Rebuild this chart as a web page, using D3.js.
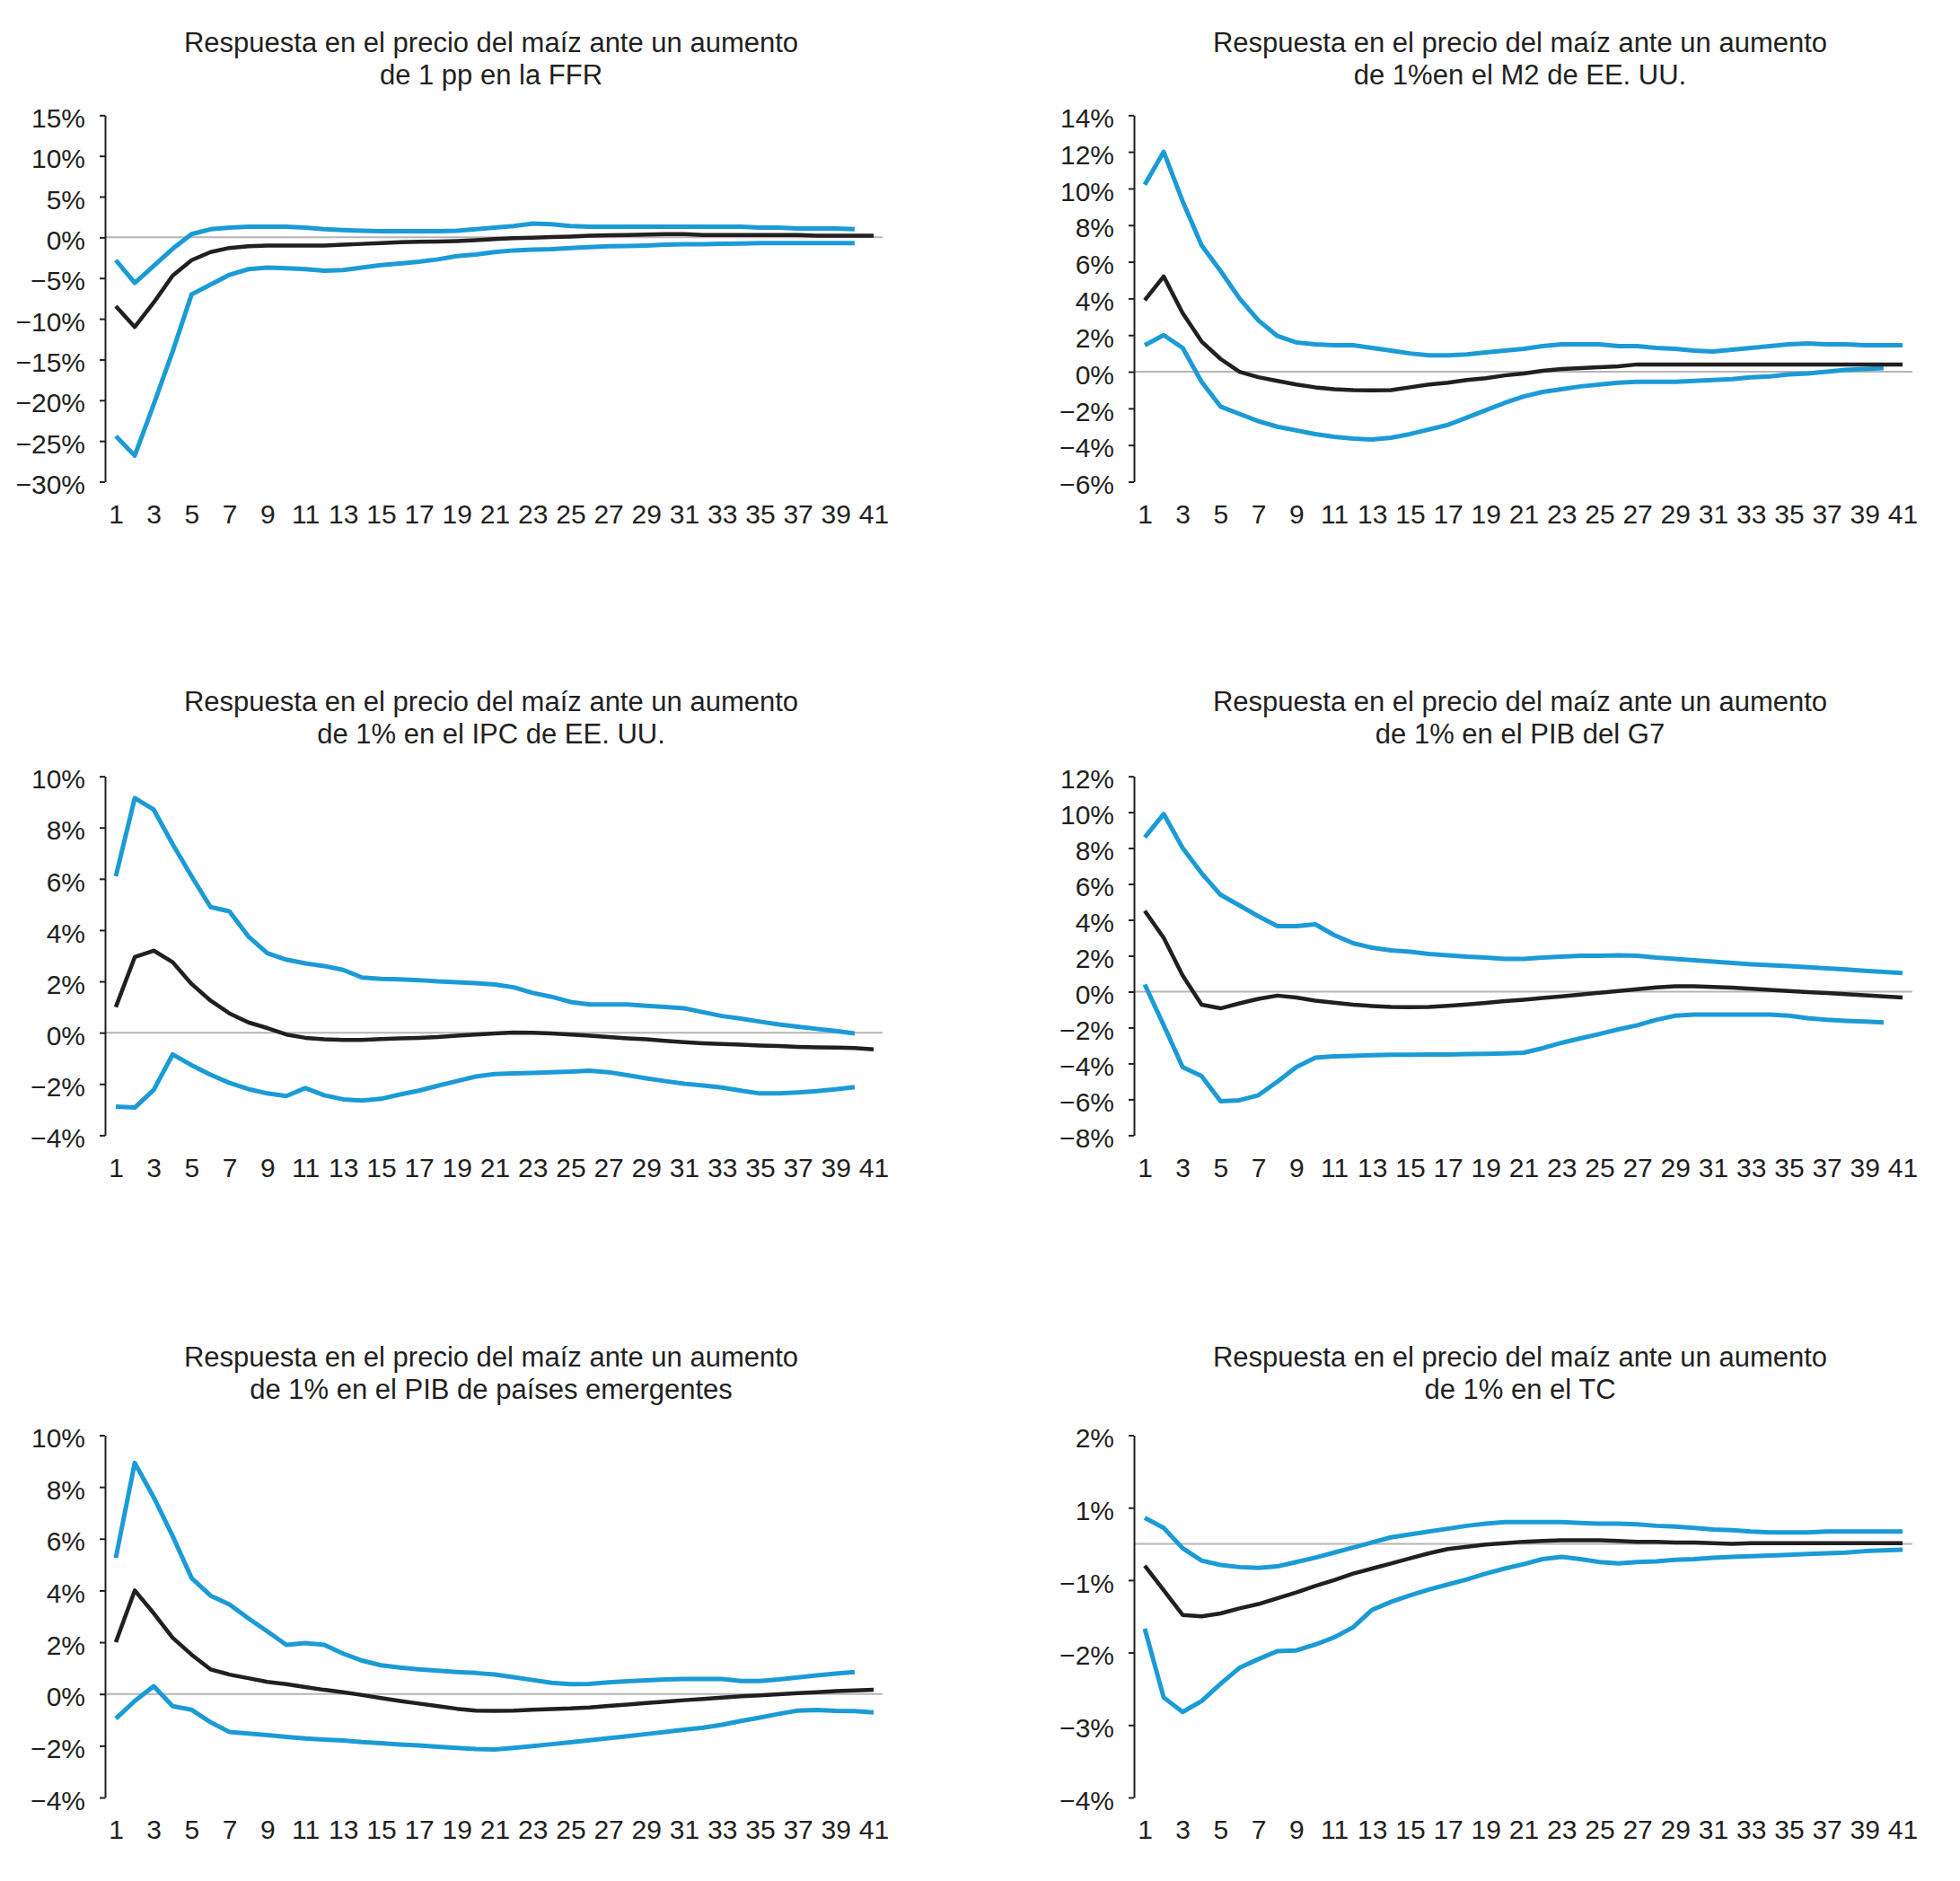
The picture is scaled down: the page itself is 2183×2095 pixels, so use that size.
<!DOCTYPE html>
<html>
<head>
<meta charset="utf-8">
<script src="https://cdn.jsdelivr.net/npm/d3@7"></script>
<style>
  html, body { margin: 0; padding: 0; background: #ffffff; }
  svg { display: block; }
  text { font-family: "Liberation Sans", Arial, Helvetica, sans-serif; fill: #231f20; }
</style>
</head>
<body>
<script>
// ---------------- DATA ----------------
const periods = [1,2,3,4,5,6,7,8,9,10,11,12,13,14,15,16,17,18,19,20,21,22,23,24,25,26,27,28,29,30,31,32,33,34,35,36,37,38,39,40,41];
const xTickLabels = [1,3,5,7,9,11,13,15,17,19,21,23,25,27,29,31,33,35,37,39,41];

const titleLine1 = "Respuesta en el precio del maíz ante un aumento";
const titleLines2 = [
  "de 1 pp en la FFR",
  "de 1%en el M2 de EE. UU.",
  "de 1% en el IPC de EE. UU.",
  "de 1% en el PIB del G7",
  "de 1% en el PIB de países emergentes",
  "de 1% en el TC"
];

// Panel 1: FFR
const ffrTicks = [15,10,5,0,-5,-10,-15,-20,-25,-30];
const ffrUpper = [-2.8,-5.6,-3.5,-1.4,0.4,1.0,1.2,1.3,1.3,1.3,1.2,1.0,0.9,0.8,0.75,0.75,0.75,0.75,0.8,1.0,1.2,1.4,1.7,1.6,1.4,1.3,1.3,1.3,1.3,1.3,1.3,1.3,1.3,1.3,1.2,1.2,1.1,1.1,1.1,1.0,null];
const ffrMid   = [-8.45,-11.0,-8.0,-4.7,-2.8,-1.8,-1.3,-1.1,-1.0,-1.0,-1.0,-1.0,-0.9,-0.8,-0.7,-0.6,-0.55,-0.5,-0.45,-0.35,-0.2,-0.1,-0.05,0.05,0.1,0.2,0.25,0.3,0.35,0.4,0.4,0.3,0.3,0.3,0.3,0.3,0.3,0.2,0.2,0.2,0.2];
const ffrLower = [-24.4,-26.8,-20.5,-14.0,-7.0,-5.8,-4.6,-3.9,-3.7,-3.8,-3.9,-4.1,-4.0,-3.7,-3.4,-3.2,-3.0,-2.7,-2.3,-2.1,-1.8,-1.6,-1.5,-1.45,-1.3,-1.2,-1.1,-1.05,-1.0,-0.9,-0.85,-0.85,-0.8,-0.75,-0.7,-0.7,-0.7,-0.7,-0.7,-0.7,null];

// Panel 2: M2
const m2Ticks = [14,12,10,8,6,4,2,0,-2,-4,-6];
const m2Upper = [10.2,12.0,9.3,6.9,5.5,4.0,2.8,1.95,1.6,1.5,1.45,1.45,1.3,1.15,1.0,0.9,0.9,0.95,1.05,1.15,1.25,1.4,1.5,1.5,1.5,1.4,1.4,1.3,1.25,1.15,1.1,1.2,1.3,1.4,1.5,1.55,1.5,1.5,1.45,1.45,1.45];
const m2Mid   = [3.9,5.2,3.2,1.65,0.7,0.0,-0.3,-0.5,-0.7,-0.85,-0.95,-1.0,-1.02,-1.0,-0.85,-0.7,-0.6,-0.45,-0.35,-0.2,-0.1,0.05,0.15,0.2,0.25,0.3,0.4,0.4,0.4,0.4,0.4,0.4,0.4,0.4,0.4,0.4,0.4,0.4,0.4,0.4,0.4];
const m2Lower = [1.45,2.0,1.3,-0.55,-1.9,-2.3,-2.7,-3.0,-3.2,-3.4,-3.55,-3.65,-3.7,-3.6,-3.4,-3.15,-2.9,-2.5,-2.1,-1.7,-1.35,-1.1,-0.95,-0.8,-0.7,-0.6,-0.55,-0.55,-0.55,-0.5,-0.45,-0.4,-0.3,-0.25,-0.15,-0.1,0.0,0.1,0.15,0.2,null];

// Panel 3: IPC
const ipcTicks = [10,8,6,4,2,0,-2,-4];
const ipcUpper = [6.1,9.15,8.7,7.35,6.1,4.9,4.73,3.75,3.1,2.85,2.7,2.6,2.45,2.15,2.1,2.08,2.05,2.0,1.97,1.93,1.88,1.77,1.55,1.4,1.2,1.1,1.1,1.1,1.05,1.0,0.95,0.8,0.65,0.55,0.43,0.32,0.23,0.15,0.07,-0.03,null];
const ipcMid   = [1.0,2.95,3.2,2.75,1.9,1.25,0.75,0.4,0.18,-0.07,-0.2,-0.26,-0.28,-0.28,-0.25,-0.22,-0.2,-0.17,-0.12,-0.07,-0.03,0.01,0.0,-0.03,-0.07,-0.12,-0.17,-0.22,-0.26,-0.32,-0.37,-0.41,-0.44,-0.47,-0.5,-0.52,-0.55,-0.57,-0.58,-0.6,-0.65];
const ipcLower = [-2.88,-2.92,-2.23,-0.85,-1.27,-1.64,-1.96,-2.2,-2.37,-2.47,-2.16,-2.44,-2.6,-2.65,-2.58,-2.41,-2.26,-2.07,-1.89,-1.71,-1.61,-1.59,-1.57,-1.54,-1.52,-1.48,-1.54,-1.66,-1.78,-1.89,-1.99,-2.06,-2.14,-2.26,-2.37,-2.37,-2.33,-2.28,-2.21,-2.12,null];

// Panel 4: PIB G7
const g7Ticks = [12,10,8,6,4,2,0,-2,-4,-6,-8];
const g7Upper = [8.6,9.9,8.0,6.6,5.4,4.8,4.2,3.65,3.65,3.75,3.15,2.7,2.45,2.3,2.22,2.1,2.03,1.95,1.9,1.83,1.83,1.9,1.95,2.0,2.0,2.03,2.0,1.9,1.83,1.75,1.67,1.6,1.53,1.48,1.42,1.36,1.3,1.24,1.16,1.1,1.04];
const g7Mid   = [4.5,3.0,0.9,-0.73,-0.93,-0.65,-0.4,-0.22,-0.33,-0.5,-0.61,-0.73,-0.8,-0.85,-0.87,-0.85,-0.79,-0.71,-0.63,-0.53,-0.45,-0.35,-0.26,-0.16,-0.06,0.04,0.14,0.24,0.3,0.3,0.26,0.22,0.16,0.1,0.04,-0.02,-0.08,-0.14,-0.2,-0.26,-0.33];
const g7Lower = [0.4,-1.87,-4.2,-4.7,-6.1,-6.05,-5.77,-5.02,-4.2,-3.68,-3.6,-3.58,-3.54,-3.52,-3.52,-3.5,-3.5,-3.48,-3.46,-3.44,-3.4,-3.15,-2.85,-2.6,-2.36,-2.1,-1.87,-1.57,-1.34,-1.28,-1.28,-1.28,-1.28,-1.28,-1.34,-1.48,-1.57,-1.63,-1.67,-1.71,null];

// Panel 5: PIB emergentes
const emTicks = [10,8,6,4,2,0,-2,-4];
const emUpper = [5.26,8.93,7.6,6.1,4.48,3.8,3.46,2.92,2.42,1.9,1.97,1.9,1.56,1.29,1.11,1.02,0.95,0.9,0.85,0.81,0.75,0.65,0.54,0.43,0.38,0.39,0.45,0.49,0.53,0.56,0.58,0.58,0.58,0.5,0.5,0.56,0.64,0.72,0.79,0.85,null];
const emMid   = [2.0,4.0,3.12,2.17,1.52,0.95,0.75,0.61,0.47,0.38,0.27,0.16,0.07,-0.04,-0.16,-0.27,-0.37,-0.47,-0.57,-0.64,-0.65,-0.64,-0.61,-0.58,-0.56,-0.52,-0.46,-0.41,-0.35,-0.3,-0.24,-0.19,-0.14,-0.09,-0.05,-0.01,0.03,0.07,0.11,0.14,0.16];
const emLower = [-0.95,-0.27,0.3,-0.47,-0.61,-1.09,-1.47,-1.53,-1.59,-1.66,-1.72,-1.76,-1.8,-1.86,-1.9,-1.95,-1.99,-2.04,-2.08,-2.13,-2.14,-2.08,-2.01,-1.94,-1.87,-1.79,-1.71,-1.63,-1.55,-1.47,-1.38,-1.3,-1.19,-1.04,-0.91,-0.77,-0.64,-0.62,-0.65,-0.66,-0.71];

// Panel 6: TC (axis runs -3.5%..1.5%, labels rounded away from zero as in the original)
const tcTicks = [1.5,0.5,-0.5,-1.5,-2.5,-3.5];
const tcUpper = [0.36,0.22,-0.06,-0.23,-0.29,-0.32,-0.33,-0.31,-0.25,-0.19,-0.12,-0.05,0.02,0.09,0.13,0.17,0.21,0.25,0.28,0.3,0.3,0.3,0.3,0.29,0.28,0.28,0.27,0.25,0.24,0.22,0.2,0.19,0.17,0.16,0.16,0.16,0.17,0.17,0.17,0.17,0.17];
const tcMid   = [-0.3,-0.64,-0.98,-1.0,-0.96,-0.89,-0.83,-0.75,-0.67,-0.58,-0.5,-0.41,-0.34,-0.27,-0.2,-0.13,-0.07,-0.04,-0.01,0.01,0.03,0.04,0.05,0.05,0.05,0.04,0.03,0.03,0.02,0.02,0.01,0.0,0.01,0.01,0.01,0.01,0.01,0.01,0.01,0.01,0.01];
const tcLower = [-1.17,-2.12,-2.32,-2.17,-1.93,-1.71,-1.59,-1.48,-1.47,-1.39,-1.29,-1.15,-0.91,-0.8,-0.71,-0.63,-0.56,-0.49,-0.41,-0.34,-0.28,-0.21,-0.18,-0.21,-0.25,-0.27,-0.25,-0.24,-0.22,-0.21,-0.19,-0.18,-0.17,-0.16,-0.15,-0.14,-0.13,-0.12,-0.1,-0.09,-0.08];

// ---------------- LAYOUT ----------------
const W = 2183, H = 2095;
const BLUE = "#1b9bd6", BLACK = "#231f20", GRAY = "#b5b5b5";
const FONT = 30, TITLE_FONT = 31;

const cols = [
  { axisX: 117,  x0: 129,  x1: 973,  zeroEnd: 983,  titleX: 547 },
  { axisX: 1263, x0: 1275, x1: 2119, zeroEnd: 2130, titleX: 1693 }
];
const rows = [
  { top: 128.3, bottom: 536.5,  t1: 58.3, xl: 583 },
  { top: 864.6, bottom: 1264.4, t1: 792,  xl: 1311 },
  { top: 1598.5, bottom: 2002,  t1: 1522, xl: 2048 }
];

const panels = [
  { row: 0, col: 0, ticks: ffrTicks, upper: ffrUpper, mid: ffrMid, lower: ffrLower, t2: titleLines2[0] },
  { row: 0, col: 1, ticks: m2Ticks,  upper: m2Upper,  mid: m2Mid,  lower: m2Lower,  t2: titleLines2[1] },
  { row: 1, col: 0, ticks: ipcTicks, upper: ipcUpper, mid: ipcMid, lower: ipcLower, t2: titleLines2[2] },
  { row: 1, col: 1, ticks: g7Ticks,  upper: g7Upper,  mid: g7Mid,  lower: g7Lower,  t2: titleLines2[3] },
  { row: 2, col: 0, ticks: emTicks,  upper: emUpper,  mid: emMid,  lower: emLower,  t2: titleLines2[4] },
  { row: 2, col: 1, ticks: tcTicks,  upper: tcUpper,  mid: tcMid,  lower: tcLower,  t2: titleLines2[5] }
];

function pctLabel(v) {
  const r = Math.round(Math.abs(v));
  if (r === 0) return "0%";
  return (v < 0 ? "\u2212" : "") + r + "%";
}

const svg = d3.select("body").append("svg")
  .attr("width", W).attr("height", H)
  .attr("viewBox", `0 0 ${W} ${H}`);

panels.forEach(p => {
  const c = cols[p.col], r = rows[p.row];
  const g = svg.append("g");

  const x = d3.scaleLinear().domain([periods[0], periods[periods.length - 1]]).range([c.x0, c.x1]);
  const y = d3.scaleLinear().domain([d3.min(p.ticks), d3.max(p.ticks)]).range([r.bottom, r.top]);

  // Title
  const title = g.append("text")
    .attr("x", c.titleX).attr("y", r.t1)
    .attr("text-anchor", "middle")
    .style("font-size", TITLE_FONT + "px");
  title.append("tspan").attr("x", c.titleX).attr("y", r.t1).text(titleLine1);
  title.append("tspan").attr("x", c.titleX).attr("y", r.t1 + 35.5).text(p.t2);

  // Zero reference line
  g.append("line")
    .attr("x1", c.axisX).attr("x2", c.zeroEnd)
    .attr("y1", y(0)).attr("y2", y(0))
    .attr("stroke", GRAY).attr("stroke-width", 2);

  // Y axis
  const yAxis = d3.axisLeft(y)
    .tickValues(p.ticks)
    .tickFormat(pctLabel)
    .tickSize(6).tickSizeOuter(0).tickPadding(16);
  const ya = g.append("g").attr("transform", `translate(${c.axisX},0)`).call(yAxis);
  ya.select(".domain").attr("stroke", BLACK).attr("stroke-width", 2);
  ya.selectAll(".tick line").attr("stroke", BLACK).attr("stroke-width", 2);
  ya.selectAll(".tick text")
    .attr("dy", "0.44em")
    .style("font-size", FONT + "px")
    .style("font-family", "'Liberation Sans', Arial, Helvetica, sans-serif")
    .attr("fill", BLACK);

  // X axis labels
  const xAxis = d3.axisBottom(x).tickValues(xTickLabels).tickFormat(d3.format("d")).tickSize(0).tickPadding(0);
  const xa = g.append("g").attr("transform", `translate(0,${r.xl})`).call(xAxis);
  xa.select(".domain").remove();
  xa.selectAll(".tick text")
    .attr("dy", "0")
    .style("font-size", FONT + "px")
    .style("font-family", "'Liberation Sans', Arial, Helvetica, sans-serif")
    .attr("fill", BLACK);

  // Lines
  const line = d3.line()
    .defined(d => d.v !== null)
    .x(d => x(d.p))
    .y(d => y(d.v))
    .curve(d3.curveLinear);

  const series = [
    { vals: p.upper, color: BLUE, w: 5 },
    { vals: p.lower, color: BLUE, w: 5 },
    { vals: p.mid,   color: BLACK, w: 4.5 }
  ];
  series.forEach(s => {
    const data = periods.map((pp, i) => ({ p: pp, v: s.vals[i] }));
    g.append("path")
      .datum(data)
      .attr("d", line)
      .attr("fill", "none")
      .attr("stroke", s.color)
      .attr("stroke-width", s.w)
      .attr("stroke-linejoin", "round")
      .attr("stroke-linecap", "butt");
  });
});
</script>
</body>
</html>
